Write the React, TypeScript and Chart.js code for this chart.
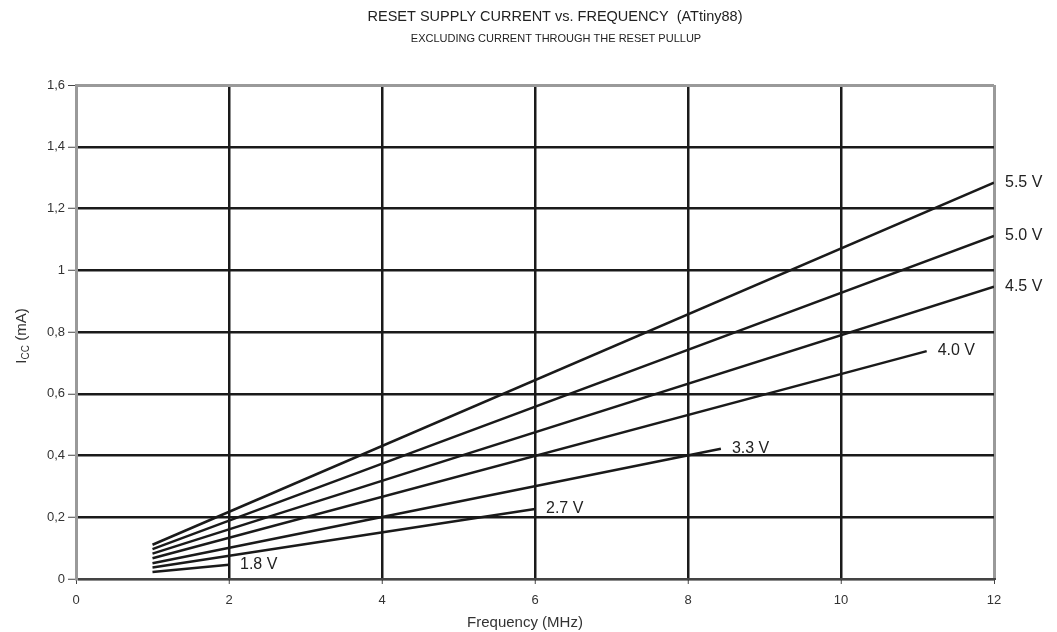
import React, { useEffect, useRef } from "react";
import { Chart, registerables } from "chart.js";

Chart.register(...registerables);

// ---- data ----
const voltageLabels = ["1.8 V", "2.7 V", "3.3 V", "4.0 V", "4.5 V", "5.0 V", "5.5 V"];
const freqStart = [1, 1, 1, 1, 1, 1, 1];
const freqEnd = [2, 6, 8.43, 11.12, 12, 12, 12];
const iccStart = [0.023, 0.037, 0.051, 0.067, 0.082, 0.097, 0.111];
const iccEnd = [0.046, 0.227, 0.422, 0.738, 0.947, 1.111, 1.284];
const xTickValues = [0, 2, 4, 6, 8, 10, 12];
const yTickValues = [0, 0.2, 0.4, 0.6, 0.8, 1, 1.2, 1.4, 1.6];

const titleText = "RESET SUPPLY CURRENT vs. FREQUENCY  (ATtiny88)";
const subtitleText = "EXCLUDING CURRENT THROUGH THE RESET PULLUP";
const xAxisTitle = "Frequency (MHz)";

const FONT = "'Liberation Sans', Arial, sans-serif";

const formatY = (v: number) => {
  const r = Math.round(v * 10) / 10;
  return String(r).replace(".", ",");
};

const annotations = {
  id: "annotations",
  afterDraw(chart: any) {
    const ctx = chart.ctx;
    const area = chart.chartArea;
    ctx.save();
    ctx.fillStyle = "#222";
    ctx.textAlign = "center";
    ctx.textBaseline = "alphabetic";
    ctx.font = `14.5px ${FONT}`;
    ctx.fillText(titleText, 555, 21);
    ctx.font = `11px ${FONT}`;
    ctx.fillText(subtitleText, 556, 42);

    // x axis title
    ctx.font = `15px ${FONT}`;
    ctx.fillStyle = "#333";
    ctx.fillText(xAxisTitle, (area.left + area.right) / 2 - 10, 627);

    // y axis title with subscript
    ctx.save();
    ctx.translate(26, (area.top + area.bottom) / 2 + 4);
    ctx.rotate(-Math.PI / 2);
    ctx.textAlign = "left";
    const bigFont = `15px ${FONT}`;
    const smallFont = `10px ${FONT}`;
    ctx.font = bigFont;
    const wI = ctx.measureText("I").width;
    const wRest = ctx.measureText(" (mA)").width;
    ctx.font = smallFont;
    const wCC = ctx.measureText("CC").width;
    const total = wI + wCC + wRest;
    let x0 = -total / 2;
    ctx.font = bigFont;
    ctx.fillText("I", x0, 0);
    x0 += wI;
    ctx.font = smallFont;
    ctx.fillText("CC", x0, 3);
    x0 += wCC;
    ctx.font = bigFont;
    ctx.fillText(" (mA)", x0, 0);
    ctx.restore();

    // series labels at line ends
    ctx.font = `16px ${FONT}`;
    ctx.fillStyle = "#222";
    ctx.textAlign = "left";
    chart.data.datasets.forEach((ds: any, i: number) => {
      const meta = chart.getDatasetMeta(i);
      const pts = meta.data;
      const last = pts[pts.length - 1];
      if (!last) return;
      ctx.fillText(ds.label, last.x + 11, last.y + 4);
    });
    ctx.restore();
  },
};

export default function App() {
  const canvasRef = useRef<HTMLCanvasElement | null>(null);

  useEffect(() => {
    const canvas = canvasRef.current;
    if (!canvas) return;
    const datasets = voltageLabels.map((label, i) => ({
      label,
      data: [
        { x: freqStart[i], y: iccStart[i] },
        { x: freqEnd[i], y: iccEnd[i] },
      ],
      borderColor: "#1a1a1a",
      borderWidth: 2.5,
      pointRadius: 0,
      fill: false,
      tension: 0,
    }));

    const edgeGray = "#9a9a9a";
    const chart = new Chart(canvas, {
      type: "line",
      data: { datasets },
      plugins: [annotations],
      options: {
        animation: false,
        responsive: false,
        maintainAspectRatio: false,
        layout: { padding: { top: 85, right: 63, left: 0, bottom: 0 } },
        plugins: {
          legend: { display: false },
          title: { display: false },
          tooltip: { enabled: false },
        },
        scales: {
          x: {
            type: "linear",
            min: 0,
            max: 12,
            afterBuildTicks: (scale: any) => {
              scale.ticks = xTickValues.map((v) => ({ value: v }));
            },
            afterFit: (scale: any) => {
              scale.height = 53;
            },
            grid: {
              color: (c: any) => (c.tick && (c.tick.value === 0 || c.tick.value === 12) ? edgeGray : "#1a1a1a"),
              lineWidth: (c: any) => (c.tick && (c.tick.value === 0 || c.tick.value === 12) ? 3 : 2.5),
              tickColor: "#444",
              tickLength: 5,
              tickWidth: 1,
              drawTicks: true,
            },
            border: { display: true, color: "#444", width: 2 },
            ticks: {
              color: "#333",
              font: { family: FONT, size: 13 },
              padding: 9,
              maxRotation: 0,
              callback: (v: any) => String(v),
            },
          },
          y: {
            type: "linear",
            min: 0,
            max: 1.6,
            afterBuildTicks: (scale: any) => {
              scale.ticks = yTickValues.map((v) => ({ value: v }));
            },
            afterFit: (scale: any) => {
              scale.width = 76;
            },
            grid: {
              color: (c: any) => (c.tick && Math.abs(c.tick.value - 1.6) < 1e-6 ? edgeGray : "#1a1a1a"),
              lineWidth: (c: any) => (c.tick && Math.abs(c.tick.value - 1.6) < 1e-6 ? 3 : 2.5),
              tickColor: "#444",
              tickLength: 8,
              tickWidth: 1,
              drawTicks: true,
            },
            border: { display: true, color: edgeGray, width: 3 },
            ticks: {
              color: "#333",
              font: { family: FONT, size: 13 },
              padding: 3,
              callback: (v: any) => formatY(Number(v)),
            },
          },
        },
      },
    } as any);
    return () => chart.destroy();
  }, []);

  return (
    <div style={{ position: "fixed", left: 0, top: 0, width: 1057, height: 632, background: "#fff" }}>
      <canvas ref={canvasRef} width={1057} height={632} style={{ display: "block", width: 1057, height: 632 }} />
    </div>
  );
}
